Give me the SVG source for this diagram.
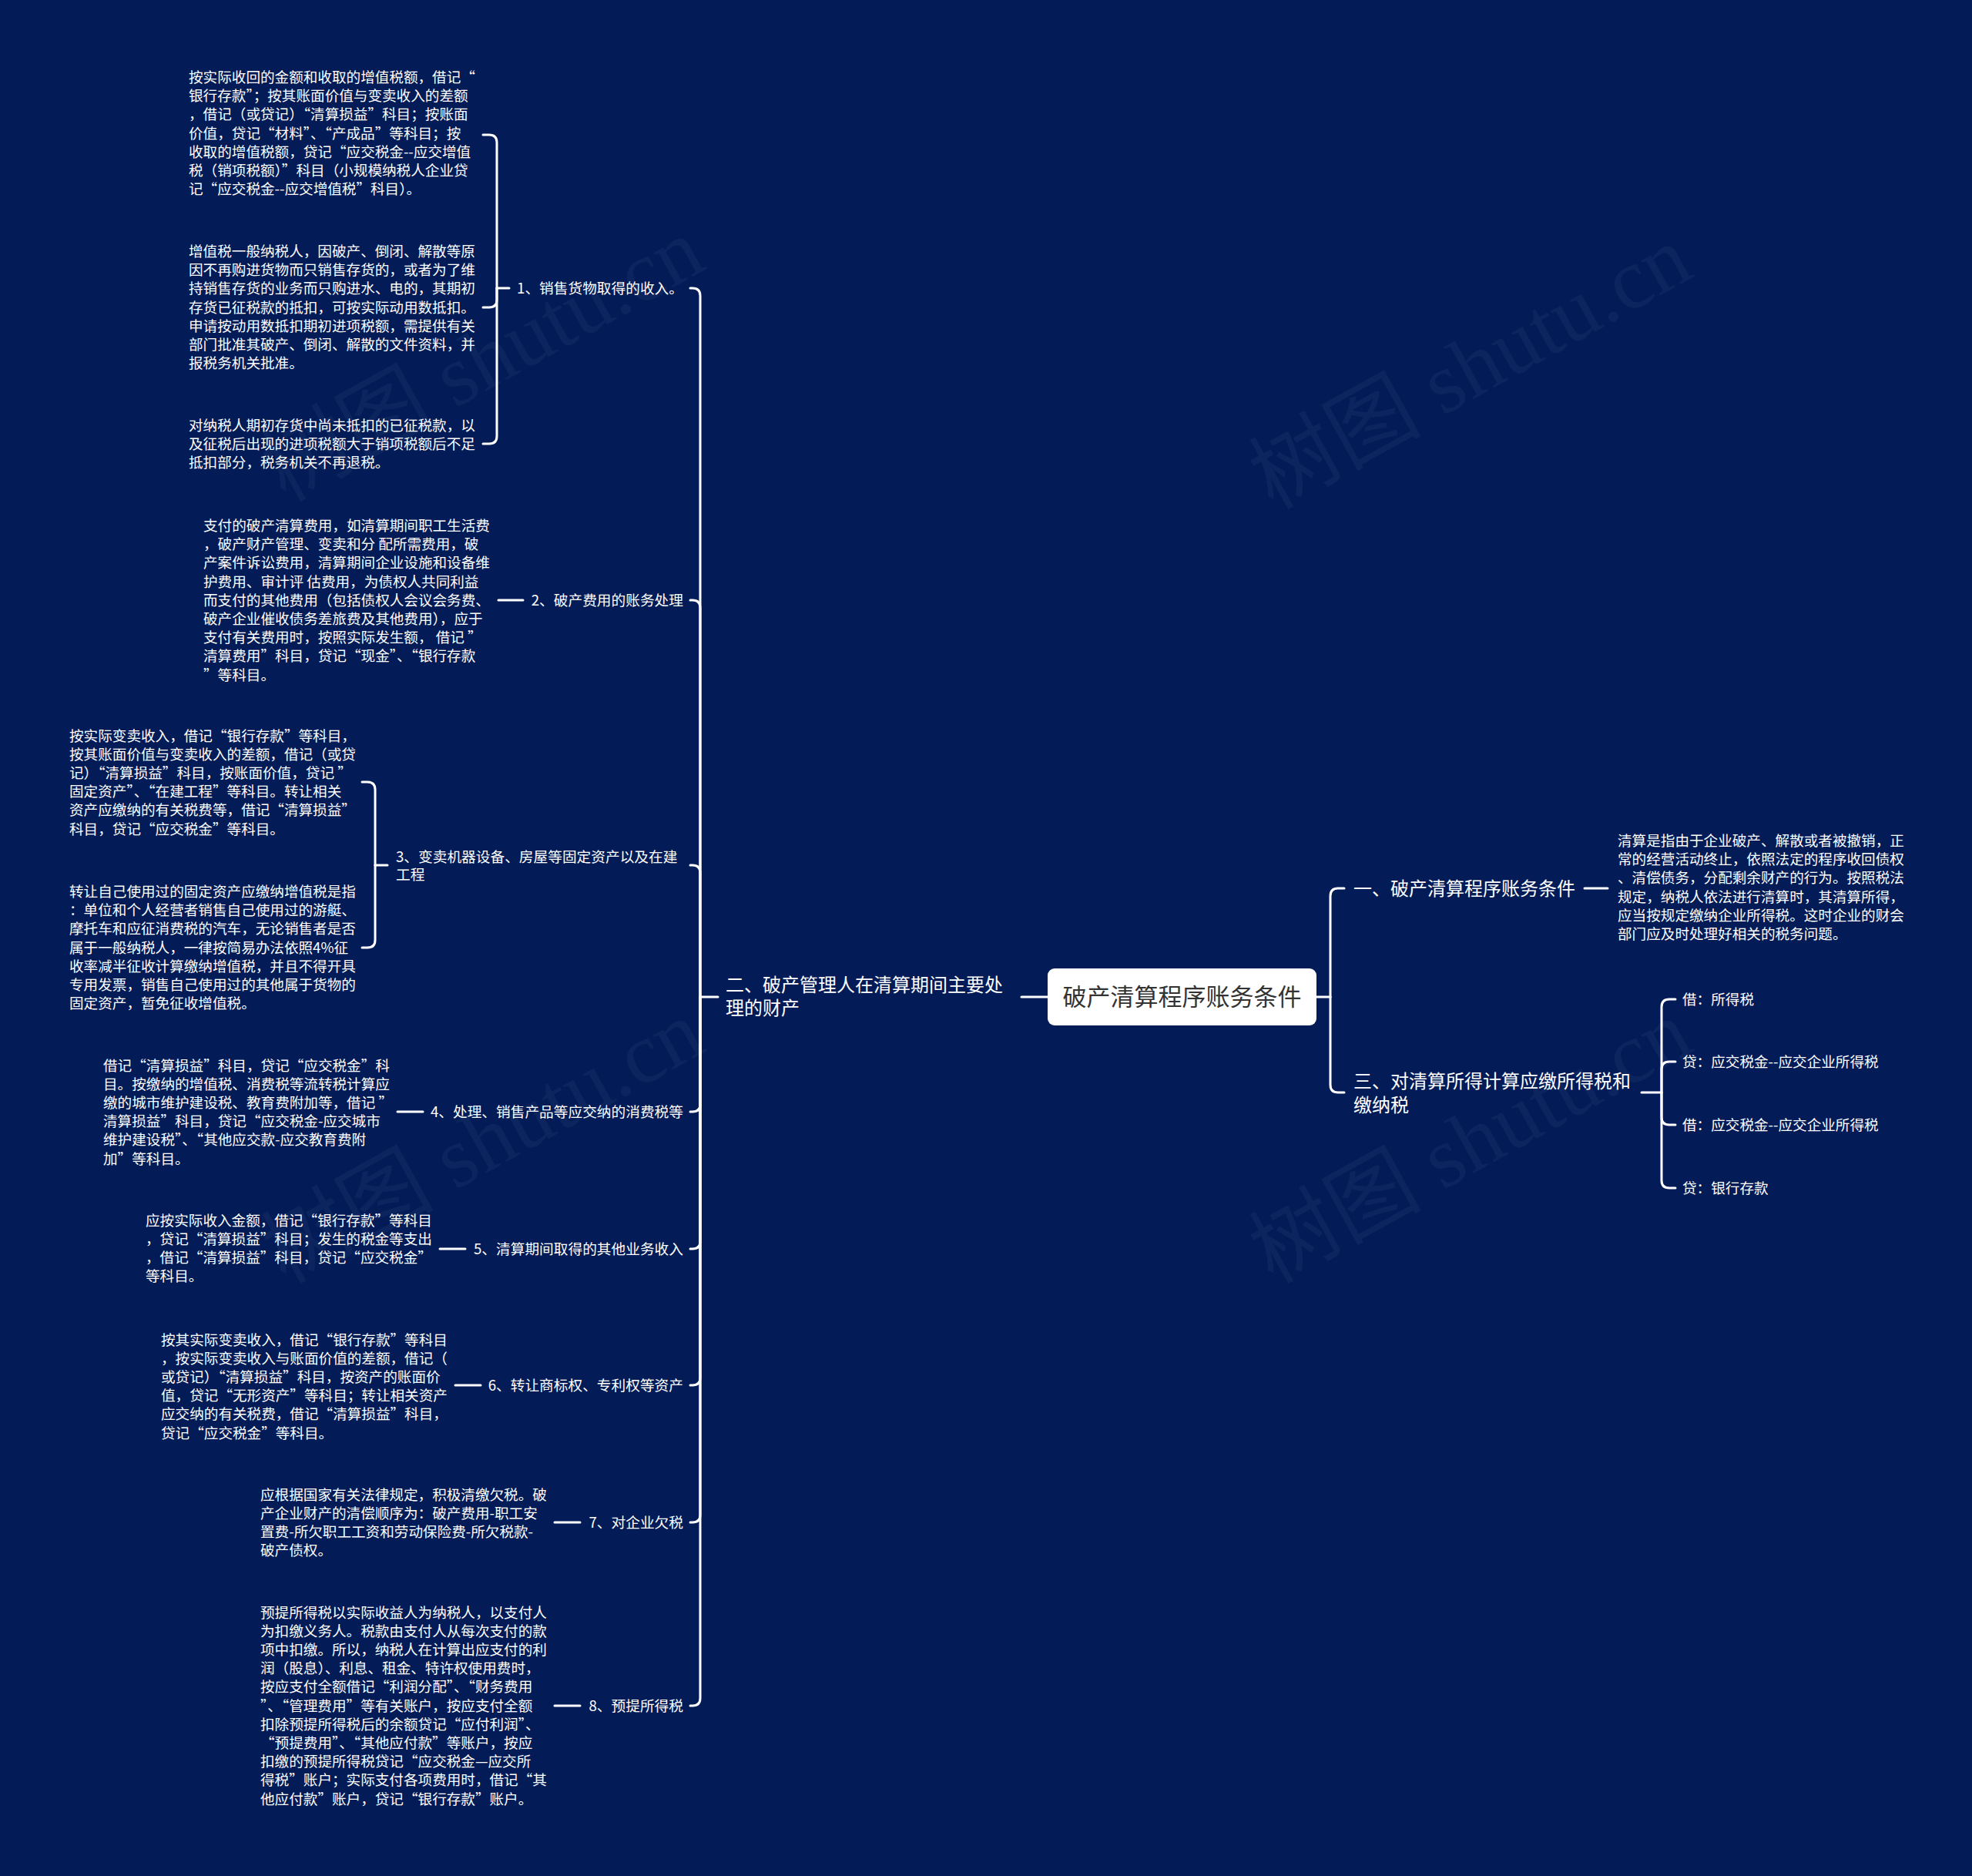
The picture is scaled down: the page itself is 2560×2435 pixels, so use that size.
<svg xmlns="http://www.w3.org/2000/svg" width="2560" height="2435" viewBox="0 0 2560 2435">
<style>
.bg{fill:#031c58}
.wm{font-family:"Liberation Serif","Noto Sans CJK SC",serif;font-size:112px;fill:#ffffff;fill-opacity:0.045}
.ln{fill:none;stroke:#ffffff;stroke-width:3;stroke-linecap:round;stroke-linejoin:round}
.t{font-family:"Noto Sans CJK SC","Noto Sans",sans-serif;fill:#ffffff;font-size:18.6px}
.lb{font-family:"Noto Sans CJK SC","Noto Sans",sans-serif;fill:#ffffff;font-size:18.7px}
.mn{font-family:"Noto Sans CJK SC","Noto Sans",sans-serif;fill:#ffffff;font-size:24px}
.rt{font-family:"Noto Sans CJK SC","Noto Sans",sans-serif;fill:#333333;font-size:31px}
</style>
<rect class="bg" x="0" y="0" width="2560" height="2435"/>
<g id="watermarks">
<text class="wm" x="645" y="500" text-anchor="middle" transform="rotate(-29 645 500)">树图 shutu.cn</text>
<text class="wm" x="1927" y="510" text-anchor="middle" transform="rotate(-29 1927 510)">树图 shutu.cn</text>
<text class="wm" x="645" y="1515" text-anchor="middle" transform="rotate(-29 645 1515)">树图 shutu.cn</text>
<text class="wm" x="1927" y="1515" text-anchor="middle" transform="rotate(-29 1927 1515)">树图 shutu.cn</text>
</g>
<g id="connectors">
<path class="ln" d="M1360 1294 L1326 1294"/>
<path class="ln" d="M932 1294 L909 1294"/>
<path class="ln" d="M909 1294 L909 384 Q909 374 899 374 L896 374"/>
<path class="ln" d="M909 1294 L909 789 Q909 779 899 779 L896 779"/>
<path class="ln" d="M909 1294 L909 1133 Q909 1123 899 1123 L896 1123"/>
<path class="ln" d="M909 1294 L909 1433 Q909 1443 899 1443 L896 1443"/>
<path class="ln" d="M909 1294 L909 1611 Q909 1621 899 1621 L896 1621"/>
<path class="ln" d="M909 1294 L909 1788 Q909 1798 899 1798 L896 1798"/>
<path class="ln" d="M909 1294 L909 1966 Q909 1976 899 1976 L896 1976"/>
<path class="ln" d="M909 1294 L909 2204 Q909 2214 899 2214 L896 2214"/>
<path class="ln" d="M661 374 L645 374"/>
<path class="ln" d="M645 374 L645 185 Q645 175 635 175 L627 175"/>
<path class="ln" d="M645 374 L645 389 Q645 399 635 399 L627 399"/>
<path class="ln" d="M645 374 L645 566 Q645 576 635 576 L627 576"/>
<path class="ln" d="M679 779 L647 779"/>
<path class="ln" d="M503 1123 L487 1123"/>
<path class="ln" d="M487 1123 L487 1025 Q487 1015 477 1015 L470 1015"/>
<path class="ln" d="M487 1123 L487 1220 Q487 1230 477 1230 L470 1230"/>
<path class="ln" d="M549 1443 L516 1443"/>
<path class="ln" d="M604 1621 L571 1621"/>
<path class="ln" d="M624 1798 L591 1798"/>
<path class="ln" d="M753 1976 L720 1976"/>
<path class="ln" d="M753 2214 L720 2214"/>
<path class="ln" d="M1709 1294 L1727 1294"/>
<path class="ln" d="M1727 1294 L1727 1163 Q1727 1153 1737 1153 L1745 1153"/>
<path class="ln" d="M1727 1294 L1727 1408 Q1727 1418 1737 1418 L1745 1418"/>
<path class="ln" d="M2057 1153 L2087 1153"/>
<path class="ln" d="M2131 1418 L2157 1418"/>
<path class="ln" d="M2157 1418 L2157 1307 Q2157 1297 2167 1297 L2175 1297"/>
<path class="ln" d="M2157 1418 L2157 1388 Q2157 1378 2167 1378 L2175 1378"/>
<path class="ln" d="M2157 1418 L2157 1450 Q2157 1460 2167 1460 L2175 1460"/>
<path class="ln" d="M2157 1418 L2157 1532 Q2157 1542 2167 1542 L2175 1542"/>
</g>
<g id="root">
<rect x="1360" y="1257" width="349" height="74" rx="9" fill="#ffffff"/>
<text class="rt" x="1534.5" y="1305" text-anchor="middle">破产清算程序账务条件</text>
</g>
<g id="main-left">
<text class="mn" x="942" y="1286.5">二、破产管理人在清算期间主要处<tspan x="942" dy="30">理的财产</tspan></text>
</g>
<g id="main-right-1">
<text class="mn" x="1757" y="1161.5">一、破产清算程序账务条件</text>
</g>
<g id="main-right-3">
<text class="mn" x="1757" y="1411.5">三、对清算所得计算应缴所得税和<tspan x="1757" dy="31">缴纳税</tspan></text>
</g>
<g id="r1-text">
<text class="t" x="2100" y="1098">清算是指由于企业破产、解散或者被撤销，正<tspan x="2100" dy="24.2">常的经营活动终止，依照法定的程序收回债权</tspan><tspan x="2100" dy="24.2">、清偿债务，分配剩余财产的行为。按照税法</tspan><tspan x="2100" dy="24.2">规定，纳税人依法进行清算时，其清算所得，</tspan><tspan x="2100" dy="24.2">应当按规定缴纳企业所得税。这时企业的财会</tspan><tspan x="2100" dy="24.2">部门应及时处理好相关的税务问题。</tspan></text>
</g>
<g id="r3-leaf1"><text class="t" x="2184" y="1303.5">借：所得税</text></g>
<g id="r3-leaf2"><text class="t" x="2184" y="1384.5">贷：应交税金--应交企业所得税</text></g>
<g id="r3-leaf3"><text class="t" x="2184" y="1466.5">借：应交税金--应交企业所得税</text></g>
<g id="r3-leaf4"><text class="t" x="2184" y="1548.5">贷：银行存款</text></g>
<g id="label-1"><text class="lb" x="887" y="380.5" text-anchor="end">1、销售货物取得的收入。</text></g>
<g id="label-2"><text class="lb" x="887" y="785.5" text-anchor="end">2、破产费用的账务处理</text></g>
<g id="label-3"><text class="lb" x="514" y="1118.5">3、变卖机器设备、房屋等固定资产以及在建<tspan x="514" dy="23">工程</tspan></text></g>
<g id="label-4"><text class="lb" x="887" y="1449.5" text-anchor="end">4、处理、销售产品等应交纳的消费税等</text></g>
<g id="label-5"><text class="lb" x="887" y="1627.5" text-anchor="end">5、清算期间取得的其他业务收入</text></g>
<g id="label-6"><text class="lb" x="887" y="1804.5" text-anchor="end">6、转让商标权、专利权等资产</text></g>
<g id="label-7"><text class="lb" x="887" y="1982.5" text-anchor="end">7、对企业欠税</text></g>
<g id="label-8"><text class="lb" x="887" y="2220.5" text-anchor="end">8、预提所得税</text></g>
<g id="text-1a">
<text class="t" x="245" y="107">按实际收回的金额和收取的增值税额，借记“<tspan x="245" dy="24.2">银行存款”；按其账面价值与变卖收入的差额</tspan><tspan x="245" dy="24.2">，借记（或贷记）“清算损益”科目；按账面</tspan><tspan x="245" dy="24.2">价值，贷记“材料”、“产成品”等科目；按</tspan><tspan x="245" dy="24.2">收取的增值税额，贷记“应交税金--应交增值</tspan><tspan x="245" dy="24.2">税（销项税额）”科目（小规模纳税人企业贷</tspan><tspan x="245" dy="24.2">记“应交税金--应交增值税”科目）。</tspan></text>
</g>
<g id="text-1b">
<text class="t" x="245" y="333">增值税一般纳税人，因破产、倒闭、解散等原<tspan x="245" dy="24.2">因不再购进货物而只销售存货的，或者为了维</tspan><tspan x="245" dy="24.2">持销售存货的业务而只购进水、电的，其期初</tspan><tspan x="245" dy="24.2">存货已征税款的抵扣，可按实际动用数抵扣。</tspan><tspan x="245" dy="24.2">申请按动用数抵扣期初进项税额，需提供有关</tspan><tspan x="245" dy="24.2">部门批准其破产、倒闭、解散的文件资料，并</tspan><tspan x="245" dy="24.2">报税务机关批准。</tspan></text>
</g>
<g id="text-1c">
<text class="t" x="245" y="558.5">对纳税人期初存货中尚未抵扣的已征税款，以<tspan x="245" dy="24.2">及征税后出现的进项税额大于销项税额后不足</tspan><tspan x="245" dy="24.2">抵扣部分，税务机关不再退税。</tspan></text>
</g>
<g id="text-2">
<text class="t" x="264" y="689">支付的破产清算费用，如清算期间职工生活费<tspan x="264" dy="24.2">，破产财产管理、变卖和分 配所需费用，破</tspan><tspan x="264" dy="24.2">产案件诉讼费用，清算期间企业设施和设备维</tspan><tspan x="264" dy="24.2">护费用、审计评 估费用，为债权人共同利益</tspan><tspan x="264" dy="24.2">而支付的其他费用（包括债权人会议会务费、</tspan><tspan x="264" dy="24.2">破产企业催收债务差旅费及其他费用），应于</tspan><tspan x="264" dy="24.2">支付有关费用时，按照实际发生额， 借记 ”</tspan><tspan x="264" dy="24.2">清算费用”科目，贷记“现金”、“银行存款</tspan><tspan x="264" dy="24.2">”等科目。</tspan></text>
</g>
<g id="text-3a">
<text class="t" x="90" y="961.5">按实际变卖收入，借记“银行存款”等科目，<tspan x="90" dy="24.2">按其账面价值与变卖收入的差额，借记（或贷</tspan><tspan x="90" dy="24.2">记）“清算损益”科目，按账面价值，贷记 ”</tspan><tspan x="90" dy="24.2">固定资产”、“在建工程”等科目。转让相关</tspan><tspan x="90" dy="24.2">资产应缴纳的有关税费等，借记“清算损益”</tspan><tspan x="90" dy="24.2">科目，贷记“应交税金”等科目。</tspan></text>
</g>
<g id="text-3b">
<text class="t" x="90" y="1164">转让自己使用过的固定资产应缴纳增值税是指<tspan x="90" dy="24.2">：单位和个人经营者销售自己使用过的游艇、</tspan><tspan x="90" dy="24.2">摩托车和应征消费税的汽车，无论销售者是否</tspan><tspan x="90" dy="24.2">属于一般纳税人，一律按简易办法依照4%征</tspan><tspan x="90" dy="24.2">收率减半征收计算缴纳增值税，并且不得开具</tspan><tspan x="90" dy="24.2">专用发票，销售自己使用过的其他属于货物的</tspan><tspan x="90" dy="24.2">固定资产，暂免征收增值税。</tspan></text>
</g>
<g id="text-4">
<text class="t" x="134" y="1389.5">借记“清算损益”科目，贷记“应交税金”科<tspan x="134" dy="24.2">目。按缴纳的增值税、消费税等流转税计算应</tspan><tspan x="134" dy="24.2">缴的城市维护建设税、教育费附加等，借记 ”</tspan><tspan x="134" dy="24.2">清算损益”科目，贷记“应交税金-应交城市</tspan><tspan x="134" dy="24.2">维护建设税”、“其他应交款-应交教育费附</tspan><tspan x="134" dy="24.2">加”等科目。</tspan></text>
</g>
<g id="text-5">
<text class="t" x="189" y="1590.5">应按实际收入金额，借记“银行存款”等科目<tspan x="189" dy="24.2">，贷记“清算损益”科目；发生的税金等支出</tspan><tspan x="189" dy="24.2">，借记“清算损益”科目，贷记“应交税金”</tspan><tspan x="189" dy="24.2">等科目。</tspan></text>
</g>
<g id="text-6">
<text class="t" x="209" y="1745.5">按其实际变卖收入，借记“银行存款”等科目<tspan x="209" dy="24.2">，按实际变卖收入与账面价值的差额，借记（</tspan><tspan x="209" dy="24.2">或贷记）“清算损益”科目，按资产的账面价</tspan><tspan x="209" dy="24.2">值，贷记“无形资产”等科目；转让相关资产</tspan><tspan x="209" dy="24.2">应交纳的有关税费，借记“清算损益”科目，</tspan><tspan x="209" dy="24.2">贷记“应交税金”等科目。</tspan></text>
</g>
<g id="text-7">
<text class="t" x="338" y="1946.5">应根据国家有关法律规定，积极清缴欠税。破<tspan x="338" dy="24.2">产企业财产的清偿顺序为：破产费用-职工安</tspan><tspan x="338" dy="24.2">置费-所欠职工工资和劳动保险费-所欠税款-</tspan><tspan x="338" dy="24.2">破产债权。</tspan></text>
</g>
<g id="text-8">
<text class="t" x="338" y="2099.5">预提所得税以实际收益人为纳税人，以支付人<tspan x="338" dy="24.2">为扣缴义务人。税款由支付人从每次支付的款</tspan><tspan x="338" dy="24.2">项中扣缴。所以，纳税人在计算出应支付的利</tspan><tspan x="338" dy="24.2">润（股息）、利息、租金、特许权使用费时，</tspan><tspan x="338" dy="24.2">按应支付全额借记“利润分配”、“财务费用</tspan><tspan x="338" dy="24.2">”、“管理费用”等有关账户，按应支付全额</tspan><tspan x="338" dy="24.2">扣除预提所得税后的余额贷记“应付利润”、</tspan><tspan x="338" dy="24.2">“预提费用”、“其他应付款”等账户，按应</tspan><tspan x="338" dy="24.2">扣缴的预提所得税贷记“应交税金—应交所</tspan><tspan x="338" dy="24.2">得税”账户；实际支付各项费用时，借记“其</tspan><tspan x="338" dy="24.2">他应付款”账户，贷记“银行存款”账户。</tspan></text>
</g>
</svg>
